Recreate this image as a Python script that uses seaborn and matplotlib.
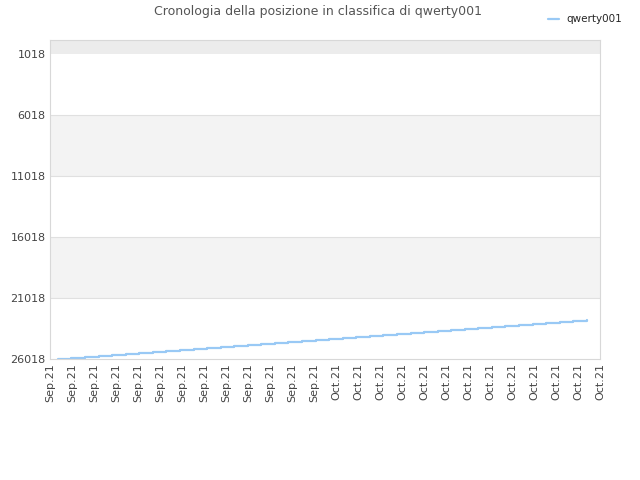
import matplotlib
matplotlib.use("Agg")
import matplotlib.pyplot as plt
import seaborn as sns
import pandas as pd

tick_labels = ["Sep.21"] * 13 + ["Oct.21"] * 13
ranks = [26018, 25940, 25860, 25775, 25695, 25610, 25530, 25450, 25365, 25285,
         25200, 25120, 25040, 24955, 24875, 24790, 24710, 24630, 24545, 24465,
         24380, 24300, 24220, 24135, 24055, 23970, 23890, 23810, 23725, 23645,
         23560, 23480, 23400, 23315, 23235, 23150, 23070, 22990, 22905, 22830]
positions = [0.36 + i * 0.6164 for i in range(len(ranks))]
df = pd.DataFrame({"x": positions, "rank": ranks})

sns.set_style("white")
plt.rcParams['font.family'] = ['DejaVu Sans']
fig = plt.figure(figsize=(6.4, 4.8), dpi=100)
ax = fig.add_axes([50/640, 1-359/480, 550/640, 319/480])

ax.axhspan(-160, 1018, color="#ececec", zorder=0, lw=0)
ax.axhspan(6018, 11018, color="#f3f3f3", zorder=0, lw=0)
ax.axhspan(16018, 21018, color="#f3f3f3", zorder=0, lw=0)
for y in [6018, 11018, 16018, 21018]:
    ax.axhline(y, color="#e0e0e0", lw=0.8, zorder=0.5)

sns.lineplot(data=df, x="x", y="rank", ax=ax, color="#99c9f5", lw=1.6,
             drawstyle="steps-post", label="qwerty001", legend=False)

ax.set_ylim(26018, -160)
ax.set_xlim(0, 25)
ax.set_yticks([1018, 6018, 11018, 16018, 21018, 26018])
ax.set_yticklabels(["1018", "6018", "11018", "16018", "21018", "26018"], fontsize=8, color="#444444")
ax.set_xticks(range(26))
ax.set_xticklabels(tick_labels, rotation=90, fontsize=8, color="#444444")
ax.set_xlabel("")
ax.set_ylabel("")
for s in ax.spines.values():
    s.set_color("#d8d8d8")
ax.tick_params(length=0, pad=3)

fig.text(318/640, 1-12/480, "Cronologia della posizione in classifica di qwerty001",
         ha="center", va="center", fontsize=9, color="#555555")
fig.legend(loc="upper right", bbox_to_anchor=(632/640, 1-5/480), frameon=False,
           fontsize=7.5, handlelength=1, handletextpad=0.8)
fig.savefig("out.png", dpi=100)
